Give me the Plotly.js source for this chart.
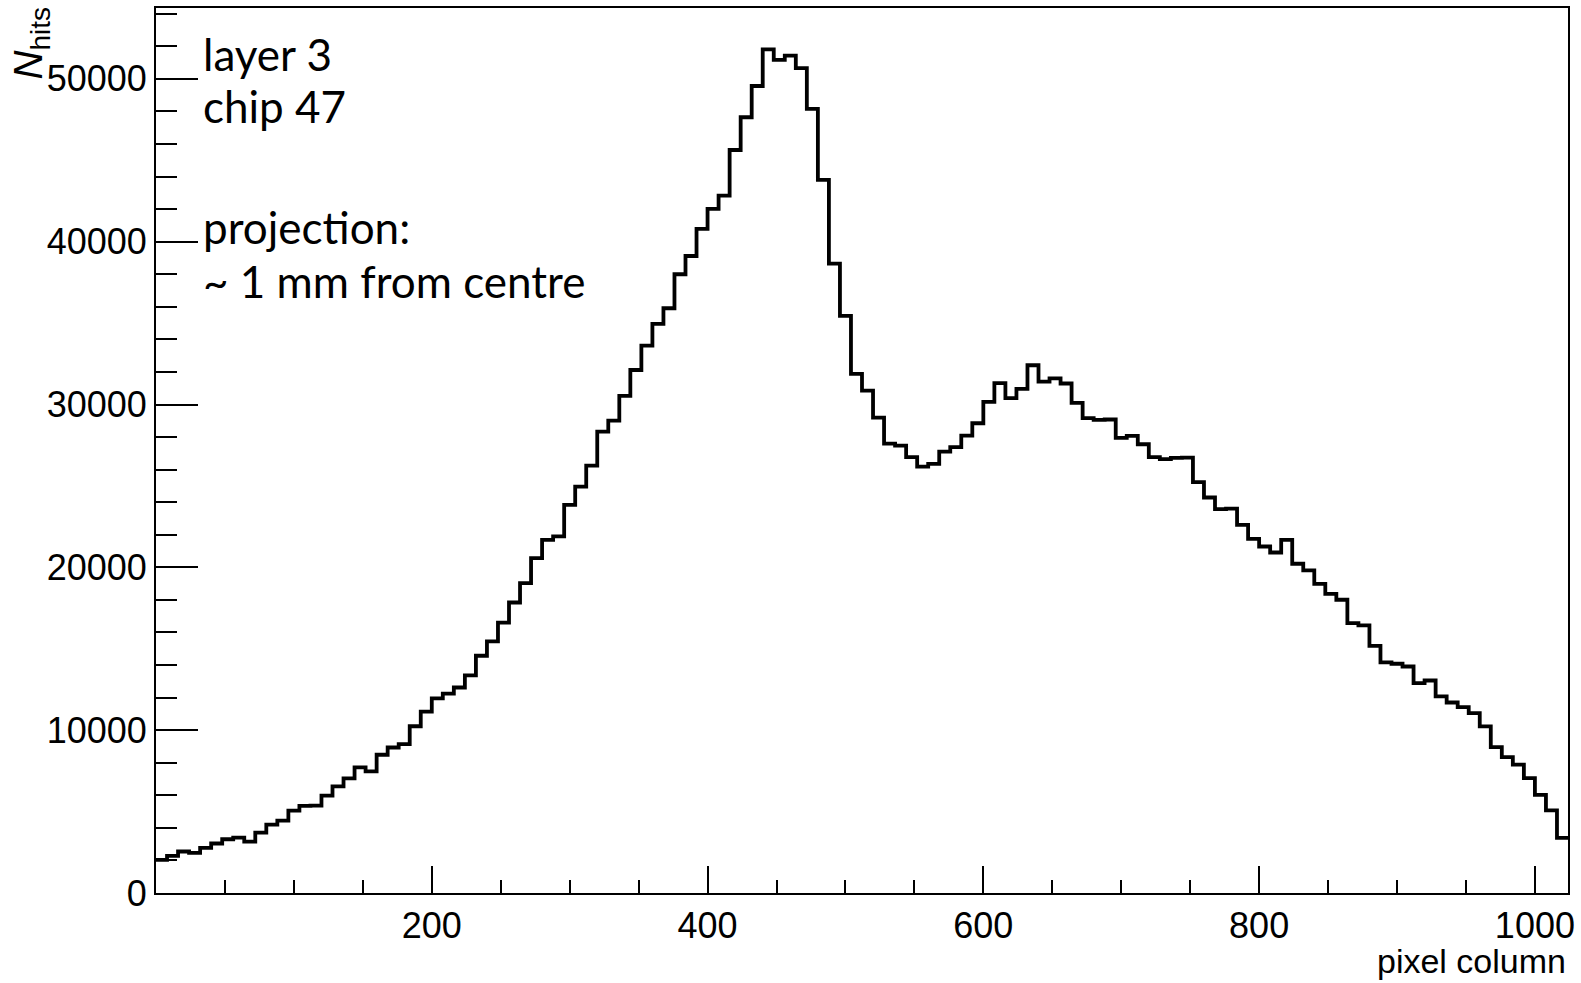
<!DOCTYPE html>
<html>
<head>
<meta charset="utf-8">
<script src="https://cdn.plot.ly/plotly-3.0.1.min.js"></script>
<style>
  html, body { margin: 0; padding: 0; background: #ffffff; }
  #chart { width: 1581px; height: 983px; }
</style>
</head>
<body>
<div id="chart"></div>
<script>
// Histogram binning (pixel column axis)
const X_MIN = 0;
const X_MAX = 1024;
const N_BINS = 128;

// Bin contents N_hits (128 bins of 8 columns)
const nHits = [
  2040, 2285, 2550, 2470, 2775, 3040, 3300, 3400, 3160, 3710,
  4200, 4450, 5060, 5345, 5365, 5980, 6550, 7040, 7710, 7470,
  8490, 8935, 9140, 10240, 11140, 11955, 12240, 12620, 13360, 14570,
  15450, 16610, 17840, 19030, 20570, 21690, 21900, 23840, 24960, 26250,
  28340, 29010, 30530, 32120, 33620, 34950, 35910, 38000, 39120, 40780,
  42010, 42830, 45630, 47640, 49560, 51810, 51160, 51420, 50660, 48150,
  43790, 38650, 35440, 31880, 30850, 29200, 27600, 27470, 26770, 26190,
  26350, 27110, 27380, 28090, 28850, 30160, 31310, 30390, 30960, 32410,
  31410, 31610, 31290, 30100, 29160, 29050, 29080, 27950, 28070, 27560,
  26770, 26640, 26720, 26740, 25230, 24290, 23570, 23610, 22610, 21750,
  21280, 20910, 21690, 20220, 19810, 18990, 18370, 18010, 16570, 16430,
  15180, 14160, 14080, 13910, 12890, 13050, 12070, 11700, 11420, 11050,
  10230, 8960, 8350, 7880, 7060, 6030, 5070, 3380
];

// Axis tick labels
const xTickVals = [200, 400, 600, 800, 1000];
const yTickVals = [0, 10000, 20000, 30000, 40000, 50000];

// Text
const xTitle = 'pixel column';
const yTitle = '<i>N</i><sub>hits</sub>';
const infoLines = ['layer 3', 'chip 47', 'projection:', '~ 1 mm from centre'];

// Build step outline from bin low edges
const binWidth = (X_MAX - X_MIN) / N_BINS;
const stepX = [];
const stepY = [];
for (let i = 0; i < nHits.length; i++) {
  stepX.push(X_MIN + i * binWidth);
  stepY.push(nHits[i]);
}
stepX.push(X_MAX);
stepY.push(nHits[nHits.length - 1]);

const trace = {
  type: 'scatter',
  mode: 'lines',
  x: stepX,
  y: stepY,
  line: { shape: 'hv', color: '#000000', width: 3.8 },
  hoverinfo: 'skip',
  showlegend: false
};

const fontFamily = '"Liberation Sans", Arial, Helvetica, sans-serif';
const tickFont = { family: fontFamily, size: 36, color: '#000000' };
const textFont = { family: 'Lato, "Open Sans", sans-serif', size: 44, color: '#000000' };

const infoY = [0.9483, 0.8891, 0.7524, 0.6914];
const annotations = infoLines.map((t, i) => ({
  xref: 'paper', yref: 'paper',
  x: 0.032, y: infoY[i],
  xanchor: 'left', yanchor: 'middle',
  text: t, showarrow: false, font: textFont
}));
annotations.push({
  xref: 'paper', yref: 'paper', x: 1.0, y: -0.1005,
  xanchor: 'right', yanchor: 'bottom',
  text: xTitle, showarrow: false, font: { family: fontFamily, size: 34, color: '#000000' }
});
annotations.push({
  xref: 'paper', yref: 'paper', x: -0.0885, y: 1.003,
  xanchor: 'center', yanchor: 'top', textangle: -90,
  text: yTitle, showarrow: false, font: { family: fontFamily, size: 40, color: '#000000' }
});

const layout = {
  width: 1581, height: 983,
  margin: { l: 156, r: 13, t: 8, b: 90, pad: 0 },
  paper_bgcolor: '#ffffff',
  plot_bgcolor: '#ffffff',
  showlegend: false,
  xaxis: {
    range: [X_MIN, X_MAX],
    tickmode: 'array', tickvals: xTickVals,
    ticks: 'inside', ticklen: 27, tickwidth: 2, tickcolor: '#000000',
    minor: { tickmode: 'linear', tick0: 0, dtick: 50, ticks: 'inside', ticklen: 13, tickwidth: 2, tickcolor: '#000000', showgrid: false },
    showline: true, linecolor: '#000000', linewidth: 2, mirror: true,
    showgrid: false, zeroline: false,
    tickfont: tickFont,
    fixedrange: true
  },
  yaxis: {
    range: [0, 54350],
    tickmode: 'array', tickvals: yTickVals, tickformat: 'd',
    ticks: 'inside', ticklen: 42, tickwidth: 2, tickcolor: '#000000',
    minor: { tickmode: 'linear', tick0: 0, dtick: 2000, ticks: 'inside', ticklen: 21, tickwidth: 2, tickcolor: '#000000', showgrid: false },
    showline: true, linecolor: '#000000', linewidth: 2, mirror: true,
    showgrid: false, zeroline: false,
    tickfont: tickFont,
    fixedrange: true
  },
  annotations: annotations
};

Plotly.newPlot('chart', [trace], layout, { displayModeBar: false, staticPlot: true });
</script>
</body>
</html>
